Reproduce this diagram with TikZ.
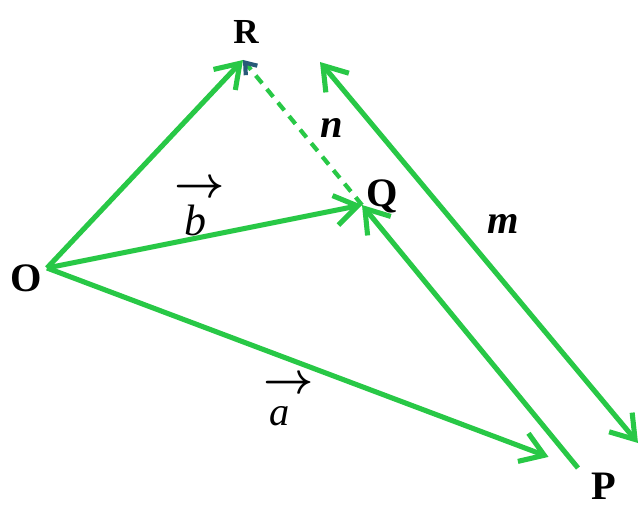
\documentclass[tikz,border=0pt]{standalone}
\usepackage{amsmath}
\usepackage{fontspec}
\setmainfont{Liberation Serif}
\usetikzlibrary{arrows.meta,positioning}
\definecolor{vecgreen}{RGB}{40,200,70}
\definecolor{tipblue}{RGB}{40,90,120}

\begin{document}
\begin{tikzpicture}[x=0.02cm,y=-0.02cm,>={Straight Barb[length=4.5mm,width=6mm]}]
  \tikzstyle{vec}=[draw=vecgreen,line width=2.9pt,->]
  \tikzstyle{pt}=[font=\fontsize{23}{26}\selectfont\bfseries,inner sep=0pt]
  \tikzstyle{lbl}=[font=\fontsize{23}{26}\selectfont,inner sep=0pt]
  \tikzstyle{overarrow}=[font=\fontsize{26}{28}\selectfont,inner sep=0pt]
  \useasboundingbox (0,0) rectangle (639,527);
  \coordinate (O) at (47,268);
  \coordinate (R) at (243,60);
  \coordinate (Q) at (362,205);
  \coordinate (P) at (578,468);
  \coordinate (mtop) at (320,62);
  \coordinate (mbot) at (638,443);
  \draw[vec] (O) -- (R);
  \draw[vec] (O) -- (Q);
  \draw[vec,shorten >=0.63cm] (O) -- (P);
  \draw[vec] (P) -- (Q);
  \draw[vec,<->] (mbot) -- (mtop);
  \draw[draw=vecgreen,line width=2.4pt,dash pattern=on 0.2cm off 0.15cm,
    -{Straight Barb[length=2mm,width=3mm,color=tipblue]}] (Q) -- (R);
  \node[pt,font=\fontsize{20}{24}\selectfont\bfseries] (lR) at (246,32) {R};
  \node[pt] (lO) at (26,278) {O};
  \node[pt] (lQ) at (382,196) {Q};
  \node[pt] (lP) at (604,486) {P};
  \node[lbl] (ln) at (332,128) {\textbf{\textit{n}}};
  \node[lbl] (lm) at (503,224) {\textbf{\textit{m}}};
  \node[lbl,font=\fontsize{25}{28}\selectfont] (lb) at (195,220) {\textit{b}};
  \node[overarrow] (lbarrow) at (200,189) {$\boldsymbol{\rightarrow}$};
  \node[lbl] (la) at (280,416) {\textit{a}};
  \node[overarrow] (laarrow) at (289,385) {$\boldsymbol{\rightarrow}$};
\end{tikzpicture}
\end{document}
